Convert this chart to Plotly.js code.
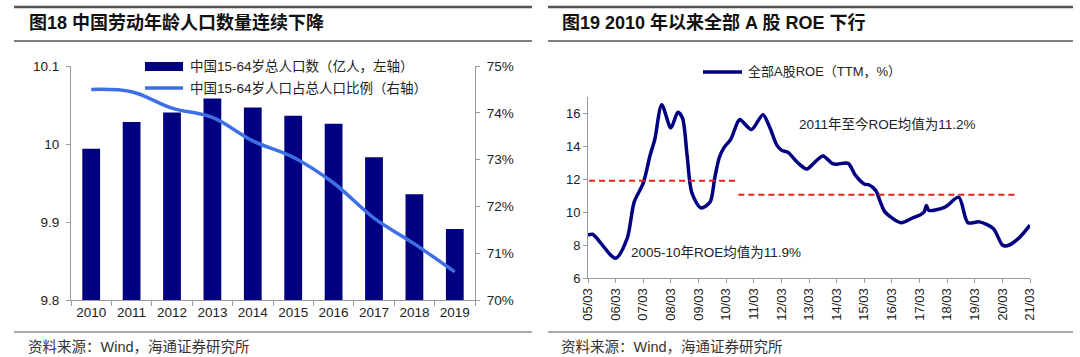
<!DOCTYPE html>
<html>
<head>
<meta charset="utf-8">
<script src="https://cdn.plot.ly/plotly-3.0.1.min.js"></script>
<style>
html,body{margin:0;padding:0;background:#fff;}
#chart{width:1080px;height:357px;}
</style>
</head>
<body>
<div id="chart"></div>
<script>
// ---------- Data: chart 18 ----------
const years = ['2010','2011','2012','2013','2014','2015','2016','2017','2018','2019'];
const popValues = [9.9938, 10.0283, 10.0403, 10.0582, 10.0469, 10.0361, 10.0260, 9.9829, 9.9357, 9.8910];
const ratioValues = [74.5, 74.45, 74.1, 73.9, 73.4, 73.05, 72.5, 71.75, 71.2, 70.6];
const popName = '中国15-64岁总人口数（亿人，左轴）';
const ratioName = '中国15-64岁人口占总人口比例（右轴）';

// ---------- Data: chart 19 ----------
const roeDates = ['2005-03','2005-05','2006-03','2006-08','2006-11','2007-03','2007-06','2007-08','2007-11',
  '2008-03','2008-06','2008-08','2008-10','2008-12','2009-04','2009-08','2009-10','2009-12','2010-02',
  '2010-05','2010-08','2010-09','2011-02','2011-07','2011-10','2012-01','2012-03','2012-06','2012-10',
  '2013-02','2013-05','2013-09','2014-01','2014-03','2014-08','2014-11','2015-03','2015-05','2015-08',
  '2015-10','2015-12','2016-07','2016-12','2017-03','2017-05','2017-06','2017-07','2018-02','2018-08',
  '2018-12','2019-05','2019-11','2020-03','2020-05','2020-10','2021-03'];
const roeValues = [8.6,8.65,7.2,8.4,10.6,11.75,13.45,14.4,16.5,
  15.1,16.05,15.7,13.45,11.2,10.25,10.6,12.05,13.3,13.9,
  14.4,15.45,15.6,15.0,15.9,15.1,14.05,13.75,13.6,13.0,
  12.6,12.95,13.4,12.95,12.9,12.95,12.25,11.7,11.65,11.3,
  10.6,10.0,9.35,9.65,9.8,10.0,10.4,10.1,10.3,10.9,
  9.35,9.4,9.0,8.0,7.95,8.4,9.2];
const roeName = '全部A股ROE（TTM，%）';
const avg1Range = ['2005-03-15','2010-08-10'];
const avg1Value = 11.9;
const avg2Range = ['2010-08-10','2020-09-20'];
const avg2Value = 11.05;
const xTickVals = ['2005-03-01','2006-03-01','2007-03-01','2008-03-01','2009-03-01','2010-03-01','2011-03-01','2012-03-01',
  '2013-03-01','2014-03-01','2015-03-01','2016-03-01','2017-03-01','2018-03-01','2019-03-01','2020-03-01','2021-03-01'];
const xTickText = ['05/03','06/03','07/03','08/03','09/03','10/03','11/03','12/03','13/03','14/03','15/03','16/03',
  '17/03','18/03','19/03','20/03','21/03'];

const W = 1080, H = 357;
const px = x => x / W;
const py = y => 1 - y / H;

const navy = '#000080';
const lightBlue = '#3f6fe6';
const red = '#e8201c';
const axisGray = '#9a9a9a';
const txt = '#222';
const mixed = '"Liberation Sans", "Noto Sans CJK SC", Arial, sans-serif';
const latin = '"Liberation Sans", Arial, sans-serif';

const traces = [
  {type:'bar', x: years, y: popValues, name: popName, marker:{color: navy}, xaxis:'x', yaxis:'y', showlegend:false, hoverinfo:'skip'},
  {type:'scatter', mode:'lines', x: years, y: ratioValues, name: ratioName, line:{color: lightBlue, width:3.5, shape:'spline', smoothing:1}, xaxis:'x', yaxis:'y3', showlegend:false, hoverinfo:'skip'},
  {type:'scatter', mode:'lines', x: roeDates, y: roeValues, name: roeName, line:{color: navy, width:3.5, shape:'spline', smoothing:0.8}, xaxis:'x2', yaxis:'y2', showlegend:false, hoverinfo:'skip'},
  {type:'scatter', mode:'lines', x: avg1Range, y: [avg1Value, avg1Value], line:{color: red, width:2, dash:'6px,4px'}, xaxis:'x2', yaxis:'y2', showlegend:false, hoverinfo:'skip'},
  {type:'scatter', mode:'lines', x: avg2Range, y: [avg2Value, avg2Value], line:{color: red, width:2, dash:'6px,4px'}, xaxis:'x2', yaxis:'y2', showlegend:false, hoverinfo:'skip'}
];

const shapes = [];
function hline(x0, x1, y, w, c){ shapes.push({type:'line', xref:'paper', yref:'paper', x0:px(x0), x1:px(x1), y0:py(y), y1:py(y), line:{color:c, width:w}}); }
hline(14, 532, 7, 2.5, '#555');
hline(14, 532, 41, 1.5, '#555');
hline(14, 532, 332, 1, '#555');
hline(548, 1073, 7, 2.5, '#555');
hline(548, 1073, 41, 1.5, '#555');
hline(548, 1073, 332, 1, '#555');
shapes.push({type:'rect', xref:'paper', yref:'paper', x0:px(145), x1:px(183), y0:py(71), y1:py(62), fillcolor:navy, line:{width:0}});
shapes.push({type:'line', xref:'paper', yref:'paper', x0:px(145), x1:px(183), y0:py(88), y1:py(88), line:{color:lightBlue, width:3.5}});
shapes.push({type:'line', xref:'paper', yref:'paper', x0:px(703), x1:px(742), y0:py(72), y1:py(72), line:{color:navy, width:3.5}});

function ann(text, x, y, size, opts){
  return Object.assign({text:text, xref:'paper', yref:'paper', x:px(x), y:py(y), xanchor:'left', yanchor:'middle', showarrow:false,
    font:{family:mixed, size:size, color:txt}}, opts||{});
}
const annotations = [
  ann('<b>图18 中国劳动年龄人口数量连续下降</b>', 27, 23, 18, {font:{family:mixed, size:18, color:'#111'}}),
  ann('<b>图19 2010 年以来全部 A 股 ROE 下行</b>', 560, 23, 18, {font:{family:mixed, size:18, color:'#111'}}),
  ann(popName, 188, 66, 13.5),
  ann(ratioName, 188, 88, 13.5),
  ann(roeName, 746, 72, 13),
  ann('2011年至今ROE均值为11.2%', 797, 125, 13.5),
  ann('2005-10年ROE均值为11.9%', 629, 252, 13.5),
  ann('资料来源：Wind，海通证券研究所', 26, 347, 14.5, {font:{family:mixed, size:14.5, color:'#333'}}),
  ann('资料来源：Wind，海通证券研究所', 559, 347, 14.5, {font:{family:mixed, size:14.5, color:'#333'}})
];

const tickFont = {family: latin, size: 13.5, color: txt};
const layout = {
  width: W, height: H,
  margin:{l:0, r:0, t:0, b:0},
  paper_bgcolor:'#fff', plot_bgcolor:'rgba(0,0,0,0)',
  showlegend:false,
  bargap: 0.56,
  xaxis:{domain:[px(71), px(475)], anchor:'y', type:'category', showline:true, linecolor:axisGray, linewidth:1,
    ticks:'outside', tickson:'boundaries', ticklen:5, tickcolor:axisGray, tickfont:tickFont, showgrid:false, zeroline:false, fixedrange:true},
  yaxis:{domain:[py(300), py(66)], anchor:'x', range:[9.8, 10.1], tickvals:[9.8, 9.9, 10, 10.1], ticktext:['9.8','9.9','10','10.1'],
    showline:true, linecolor:axisGray, ticks:'outside', ticklen:4, tickcolor:axisGray, tickfont:tickFont, showgrid:false, zeroline:false, ticklabelstandoff:4},
  yaxis3:{overlaying:'y', side:'right', anchor:'x', range:[70, 75], dtick:1, ticksuffix:'%', showline:true, linecolor:axisGray,
    ticks:'outside', ticklen:4, tickcolor:axisGray, tickfont:tickFont, showgrid:false, zeroline:false, ticklabelstandoff:4},
  xaxis2:{domain:[px(588), px(1030)], anchor:'y2', type:'date', range:['2005-03-01','2021-03-01'], tickvals:xTickVals, ticktext:xTickText,
    tickangle:-90, showline:true, linecolor:axisGray, ticks:'outside', ticklen:4, tickcolor:axisGray,
    tickfont:{family:latin, size:13, color:txt}, showgrid:false, zeroline:false},
  yaxis2:{domain:[py(278), py(96.5)], anchor:'x2', range:[6, 17], tickvals:[6,8,10,12,14,16], showline:true, linecolor:axisGray,
    ticks:'outside', ticklen:4, tickcolor:axisGray, tickfont:{family:latin, size:13, color:txt}, showgrid:false, zeroline:false},
  shapes: shapes,
  annotations: annotations
};

Plotly.newPlot('chart', traces, layout, {staticPlot:true, displayModeBar:false});
</script>
</body>
</html>
